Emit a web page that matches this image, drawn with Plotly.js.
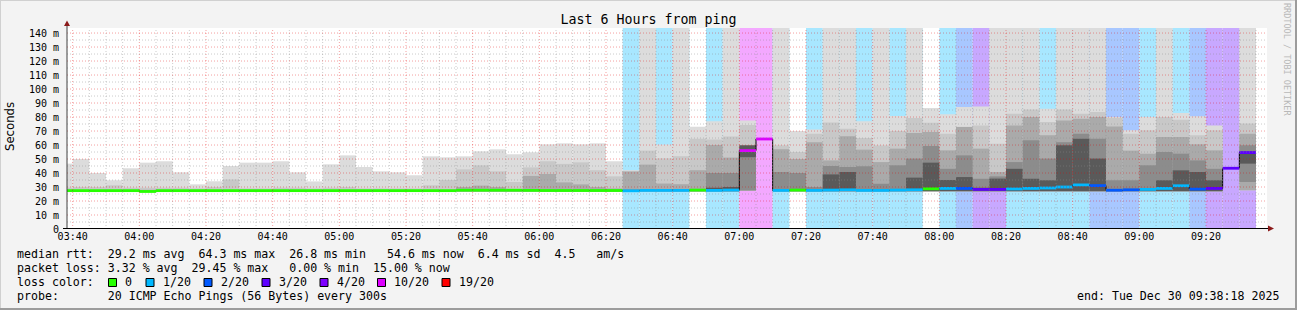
<!DOCTYPE html>
<html><head><meta charset="utf-8">
<script src="https://cdn.plot.ly/plotly-3.0.1.min.js"></script>
<style>html,body{margin:0;padding:0;background:#f3f3f3}#chart{width:1297px;height:310px}</style>
</head><body><div id="chart"></div><script>
// ---- data (5-minute bins, start times) ----
const binStarts = [
 '03:35','03:40','03:45','03:50','03:55',
 '04:00','04:05','04:10','04:15','04:20','04:25','04:30','04:35','04:40','04:45','04:50','04:55',
 '05:00','05:05','05:10','05:15','05:20','05:25','05:30','05:35','05:40','05:45','05:50','05:55',
 '06:00','06:05','06:10','06:15','06:20','06:25','06:30','06:35','06:40','06:45','06:50','06:55',
 '07:00','07:05','07:10','07:15','07:20','07:25','07:30','07:35','07:40','07:45','07:50','07:55',
 '08:00','08:05','08:10','08:15','08:20','08:25','08:30','08:35','08:40','08:45','08:50','08:55',
 '09:00','09:05','09:10','09:15','09:20','09:25','09:30'];
// median rtt (ms)
const medianMs = [
 27.4,27.4,27.4,27.4,27.4,26.8,27.4,27.4,27.4,27.4,27.4,27.4,27.4,27.4,27.4,27.4,27.4,
 27.4,27.4,27.4,27.4,27.4,27.4,27.4,27.7,27.7,27.7,27.7,27.6,27.5,27.5,27.5,27.5,27.5,
 27.3,27.6,27.6,27.6,27.8,27.6,27.8,56,64.3,27.6,27.8,27.6,27.8,28,27.6,27.6,27.8,28,28.7,
 29,29,28.3,28.3,28.6,29,29.3,30,31.5,31,27.7,28,28.3,29,30.9,28.5,29,43.4,54.6];
// lost pings out of 20
const lossCount = [
 0,0,0,0,0,0,0,0,0,0,0,0,0,0,0,0,0,0,0,0,0,0,0,0,0,0,0,0,0,0,0,0,0,0,
 1,1,1,1,0,1,1,10,10,1,0,1,1,1,1,1,1,1,0,1,2,3,3,1,1,1,1,1,2,2,2,1,1,1,2,3,3,3];
// smoke band bottoms (ms)
const smokeBase = [
 26.6,26.6,26.6,26.6,26.6,26.6,26.6,26.6,26.6,26.6,26.6,26.6,26.6,26.6,26.6,26.6,26.6,
 26.6,26.6,26.6,26.6,26.6,26.6,26.6,26.6,26.6,26.6,26.6,26.6,26.6,26.6,26.6,26.6,26.6,
 27,27,27,27,27,27,27,27.5,null,27,27,27,27,27,27,27,27,27,27,
 27,27,27,27,27,27,27,27,27,27,27,27,27,27,27,27,27,null,27.6];
// smoke band tops, outer (light) to inner (dark)
const smokeTop1 = [
 46.7,50,40,34.8,43.4,47.4,48.4,40.5,31.9,34.1,45,47.4,47.4,48.4,40.5,34,46.2,
 52.6,44.3,41.2,40.5,38.4,51.9,51.2,51.9,55.5,56.9,53.4,54.8,60.5,61.2,60.5,61.2,48.4,
 42,150,60.3,150,73,77,150,77.6,null,150,70,71,150,150,76.9,150,80.7,150,86.4,
 81.9,87.1,87.6,150,150,150,85.9,150,150,150,80,70.5,80,150,82.9,80.5,74,null,150];
const smokeTop2 = [
 29.5,30,30,31.2,29.5,29.5,29.5,29.5,29,30,35.4,29,29,29.5,29.5,29,29.5,
 30,29,29,29,29,31.2,35,42.6,45.5,41.2,33.6,44,48.4,46.5,47.6,42,37.6,
 41.5,56,50.5,52,64.5,64,66,74.3,null,59.8,55,68,76,71.7,65,59.7,70,79.3,75.9,
 68,73,74,60.9,82.4,85.3,76.4,85.3,82.4,83.6,79.5,68,70.5,80,78,67,70.5,null,75.3];
const smokeTop3 = [
 28,28,28,28,28,28,28,28,28,28,28,28,28,28,28,28,28,
 28,28,28,28,28,28,28,30,31,30,28,37.9,39.3,33.3,31.9,30,29,
 41,46,32.5,32,42,60,51,59.8,null,57,50,62,49,66.2,56.7,47.8,57.4,68.6,69.3,
 56.2,72.9,57.4,40.7,74,80,67,77.6,78.8,80,73.2,56,53.8,65.7,65.7,60.5,56.2,null,68];
const smokeTop4 = [
 null,null,null,null,null,null,null,null,null,null,null,null,null,null,null,null,null,
 null,null,null,null,null,null,null,null,null,null,null,null,null,null,null,null,null,
 28,28,28,28,28,40,40,51.2,null,40.7,40,30,45,44.3,44.8,32.3,45.5,50.3,59.3,
 43,52.6,35.9,37.6,47.8,63.4,50.3,62,68,64.4,34.8,34.8,45.5,55,53.8,49,43,null,59.8];
const smokeTop5 = [
 null,null,null,null,null,null,null,null,null,null,null,null,null,null,null,null,null,
 null,null,null,null,null,null,null,null,null,null,null,null,null,null,null,null,null,
 28,28,28,28,28,29.5,30,59.8,null,28,28,28,39,40.7,28,28,28,36.7,47.4,
 35,37.1,29.5,36,43,35.9,34.8,59.8,64.4,50.3,28,28,28,34.8,41.9,40.7,34.8,null,55.5];
// inner bands that do not reach the bottom (others start at smokeBase)
const smokeLow4 = {71: 33.6};
const smokeLow5 = {41: 51.2, 71: 46.7};

const yTickVals = [0,10,20,30,40,50,60,70,80,90,100,110,120,130,140];
const yTickText = ['0','10 m','20 m','30 m','40 m','50 m','60 m','70 m','80 m','90 m','100 m','110 m','120 m','130 m','140 m'];
const lossLevels = [0,1,2,3,4,10,19];
const lossLabels = ['0','1/20','2/20','3/20','4/20','10/20','19/20'];
const lossColors = ['#26ff00','#00b8ff','#0059ff','#5e00ff','#7e00ff','#dd00ff','#ff0000'];
const smokeColors = ['#dcdcdc','#c8c8c8','#aaaaaa','#8c8c8c','#5a5a5a'];

const statLines = [
 'median rtt:  29.2 ms avg  64.3 ms max  26.8 ms min   54.6 ms now  6.4 ms sd  4.5   am/s',
 'packet loss: 3.32 % avg  29.45 % max   0.00 % min  15.00 % now',
 'loss color:',
 'probe:       20 ICMP Echo Pings (56 Bytes) every 300s'];
const endText = 'end: Tue Dec 30 09:38:18 2025';
const titleText = 'Last 6 Hours from ping';
const X_START = '2025-12-30 03:38:18', X_END = '2025-12-30 09:38:18';
const Y_MAX = 143.6;

// ---- helpers ----
const STEP = 5*60*1000;
function tms(hm){const [h,m]=hm.split(':').map(Number);return Date.UTC(2025,11,30,h,m);}
const starts = binStarts.map(tms);
const centers = starts.map(s=>s+STEP/2);
function lossColor(n){let c=lossColors[0];for(let k=0;k<lossLevels.length;k++){if(n>=lossLevels[k])c=lossColors[k];}return c;}
function lighten(hex,a){const r=parseInt(hex.substr(1,2),16),g=parseInt(hex.substr(3,2),16),b=parseInt(hex.substr(5,2),16);
 const f=v=>Math.round(255-(255-v)*a);return 'rgb('+f(r)+','+f(g)+','+f(b)+')';}

const traces = [];
// loss background columns
traces.push({type:'bar',x:centers,y:lossCount.map(n=>n>0?Y_MAX:null),base:0,width:STEP,
 marker:{color:lossCount.map(n=>lighten(lossColor(n),0.34)),line:{width:0}},hoverinfo:'skip',showlegend:false});
// smoke layers
const tops=[smokeTop1,smokeTop2,smokeTop3,smokeTop4,smokeTop5];
const lows=[{}, {}, {}, smokeLow4, smokeLow5];
tops.forEach((tp,k)=>{
 const base=tp.map((v,i)=> (lows[k][i]!==undefined)?lows[k][i]:smokeBase[i]);
 traces.push({type:'bar',x:centers,base:base,y:tp.map((v,i)=>(v==null||base[i]==null)?null:v-base[i]),width:STEP,
  marker:{color:smokeColors[k],line:{width:0}},hoverinfo:'skip',showlegend:false});
});
// median step (thin dark)
traces.push({type:'scatter',mode:'lines',x:starts.concat([starts[starts.length-1]+STEP]),
 y:medianMs.concat([medianMs[medianMs.length-1]]),line:{shape:'hv',color:'#000000',width:1},hoverinfo:'skip',showlegend:false});
// median coloured by loss
lossLevels.forEach((lv,k)=>{
 const xs=[],ys=[];
 medianMs.forEach((m,i)=>{ if(lossColor(lossCount[i])===lossColors[k]){xs.push(starts[i],starts[i]+STEP,null);ys.push(m,m,null);} });
 if(xs.length) traces.push({type:'scatter',mode:'lines',x:xs,y:ys,line:{color:lossColors[k],width:2.8},hoverinfo:'skip',showlegend:false,connectgaps:false});
});

// ---- grid as shapes above data ----
const L=67,R=1267,T=28,B=229;
const px=p=>(p-L)/(R-L), py=p=>(B-p)/(B-T);
const shapes=[];
const t1=Date.parse(X_END.replace(' ','T')+'Z');
for(let t=Date.UTC(2025,11,30,3,40); t<t1; t+=STEP){
 const mins=new Date(t).getUTCMinutes();
 const major = mins%20===0;
 shapes.push({type:'line',xref:'x',yref:'paper',x0:t,x1:t,y0:0,y1:1,layer:'above',
  line:{color:major?'rgba(225,0,0,0.38)':'rgba(140,140,140,0.45)',width:1,dash:'1px,2px'}});
}
for(let v=5; v<Y_MAX; v+=5){
 const major=v%10===0;
 shapes.push({type:'line',xref:'paper',yref:'y',x0:0,x1:1,y0:v,y1:v,layer:'above',
  line:{color:major?'rgba(225,0,0,0.38)':'rgba(140,140,140,0.45)',width:1,dash:'1px,2px'}});
}
// axes lines and arrows
shapes.push({type:'line',xref:'paper',yref:'paper',x0:px(67),x1:px(67),y0:py(229),y1:py(24),layer:'above',line:{color:'#404040',width:1}});
shapes.push({type:'line',xref:'paper',yref:'paper',x0:px(63),x1:px(1269),y0:py(228.5),y1:py(228.5),layer:'above',line:{color:'#000000',width:1}});
shapes.push({type:'path',xref:'paper',yref:'paper',path:`M ${px(64)} ${py(26)} L ${px(70)} ${py(26)} L ${px(67)} ${py(20.5)} Z`,fillcolor:'#8b1a1a',line:{width:0},layer:'above'});
shapes.push({type:'path',xref:'paper',yref:'paper',path:`M ${px(1268)} ${py(225.5)} L ${px(1268)} ${py(231.5)} L ${px(1274)} ${py(228.5)} Z`,fillcolor:'#8b1a1a',line:{width:0},layer:'above'});
// frame
shapes.push({type:'line',xref:'paper',yref:'paper',x0:px(0.5),x1:px(0.5),y0:py(0),y1:py(310),line:{color:'#d0d0d0',width:1}});
shapes.push({type:'line',xref:'paper',yref:'paper',x0:px(0),x1:px(1297),y0:py(0.5),y1:py(0.5),line:{color:'#d0d0d0',width:1}});
shapes.push({type:'line',xref:'paper',yref:'paper',x0:px(1296),x1:px(1296),y0:py(0),y1:py(310),line:{color:'#9c9c9c',width:2}});
shapes.push({type:'line',xref:'paper',yref:'paper',x0:px(0),x1:px(1297),y0:py(309),y1:py(309),line:{color:'#9c9c9c',width:2}});

// ---- texts ----
const mono='DejaVu Sans Mono';
const nb=s=>s.replace(/ /g,'\u00a0');
const annotations=[];
const lineY=[254,268,282,296];
statLines.forEach((s,i)=>annotations.push({xref:'paper',yref:'paper',x:px(15),y:py(lineY[i]),xanchor:'left',yanchor:'middle',
 text:nb(s),showarrow:false,font:{family:mono,size:11.6,color:'#000'}}));
annotations.push({xref:'paper',yref:'paper',x:px(1281),y:py(296),xanchor:'right',yanchor:'middle',text:nb(endText),showarrow:false,font:{family:mono,size:11.6,color:'#000'}});
const boxX=[108.5,146,204,262,320,377.5,442];
lossLabels.forEach((lab,k)=>{
 shapes.push({type:'rect',xref:'paper',yref:'paper',x0:px(boxX[k]),x1:px(boxX[k]+8),y0:py(278.5),y1:py(286.5),fillcolor:lossColors[k],line:{color:'#000',width:1}});
 annotations.push({xref:'paper',yref:'paper',x:px(boxX[k]+14.5),y:py(282),xanchor:'left',yanchor:'middle',text:nb(lab),showarrow:false,font:{family:mono,size:11.6,color:'#000'}});
});
annotations.push({xref:'paper',yref:'paper',x:px(10),y:py(127),xanchor:'center',yanchor:'middle',text:'Seconds',textangle:-90,showarrow:false,font:{family:'DejaVu Sans',size:11.7,color:'#000'}});
annotations.push({xref:'paper',yref:'paper',x:px(1287),y:py(59),xanchor:'center',yanchor:'middle',text:nb('RRDTOOL / TOBI OETIKER'),textangle:90,showarrow:false,font:{family:mono,size:8.5,color:'#b8b8b8'}});

const layout={
 width:1297,height:310,margin:{l:L,r:1297-R,t:T,b:310-B},
 paper_bgcolor:'#f3f3f3',plot_bgcolor:'#ffffff',barmode:'overlay',showlegend:false,
 title:{text:titleText,x:0.5,xref:'container',xanchor:'center',y:1-19/310,yref:'container',yanchor:'middle',font:{family:mono,size:13.3,color:'#000'}},
 xaxis:{type:'date',range:[X_START,X_END],tickformat:'%H:%M',tick0:'2025-12-30 03:40:00',dtick:20*60*1000,
  showgrid:false,zeroline:false,showline:false,ticks:'',tickfont:{family:mono,size:10,color:'#000'},fixedrange:true},
 yaxis:{range:[0,Y_MAX],tickvals:yTickVals,ticktext:yTickText,showgrid:false,zeroline:false,showline:false,
  ticks:'outside',ticklen:5,tickcolor:'rgba(0,0,0,0)',tickfont:{family:mono,size:10,color:'#000'},fixedrange:true},
 shapes:shapes,annotations:annotations
};
Plotly.newPlot('chart',traces,layout,{staticPlot:true});
</script></body></html>
